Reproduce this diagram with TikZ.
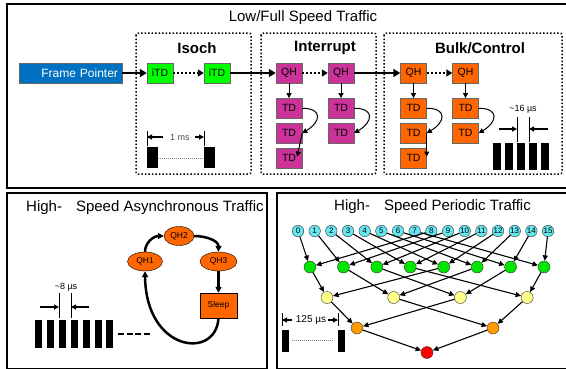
\documentclass[tikz,border=0pt]{standalone}
\usepackage{fontspec}
\setmainfont{Liberation Sans}
\usetikzlibrary{positioning,arrows.meta,shapes.geometric}
\tikzstyle{pixelGrid} = [x = 1pt, y = -1pt]
\definecolor{pointerBlue}{RGB}{0,112,192}
\definecolor{isochGreen}{RGB}{0,255,0}
\definecolor{interruptMagenta}{RGB}{204,51,153}
\definecolor{bulkOrange}{RGB}{255,102,0}
\definecolor{frameCyan}{RGB}{102,230,240}
\definecolor{pollGreen}{RGB}{0,230,0}
\definecolor{pollYellow}{RGB}{255,255,140}
\definecolor{pollOrange}{RGB}{255,153,0}
\definecolor{pollRed}{RGB}{255,0,0}
\tikzstyle{panelFrame} = [draw=black, line width=2pt]
\tikzstyle{groupFrame} = [draw=black, line width=1.5pt, dotted, rounded corners=2pt]
\tikzstyle{panelTitle} = [font=\fontsize{15}{17}\selectfont]
\tikzstyle{groupTitle} = [font=\bfseries\fontsize{15}{17}\selectfont]
\tikzstyle{listBox} = [draw=black!60, text=black, minimum width=26pt, minimum height=20pt, inner sep=0pt, font=\fontsize{10.5}{12}\selectfont]
\tikzstyle{heavyArrow} = [line width=2.5pt, -{Triangle[length=7pt,width=8pt]}]
\tikzstyle{dottedArrow} = [line width=2pt, dotted, -{Triangle[length=6pt,width=7pt]}]
\tikzstyle{linkArrow} = [line width=1pt, -{Triangle[length=5pt,width=5pt]}]
\tikzstyle{treeArrow} = [line width=1.1pt, -{Triangle[length=5.5pt,width=5pt]}]
\tikzstyle{ringArrow} = [line width=2.5pt, -{Triangle[length=6pt,width=6pt]}]
\tikzstyle{dimArrow} = [line width=1.2pt, -{Triangle[length=5pt,width=5pt]}]
\tikzstyle{dimTick} = [line width=1pt]
\tikzstyle{dimText} = [font=\fontsize{9}{10}\selectfont, inner sep=0pt]
\tikzstyle{gapLine} = [line width=1pt, draw=black!50, densely dotted]
\tikzstyle{qhEllipse} = [ellipse, draw=black, fill=bulkOrange, inner sep=0pt, font=\fontsize{8.5}{9}\selectfont]
\tikzstyle{slotNode} = [circle, draw=black!80, fill=frameCyan, minimum size=11.5pt, inner sep=0pt, font=\fontsize{8}{8}\selectfont]
\tikzstyle{pollNode} = [circle, draw=black!80, minimum size=12pt, inner sep=0pt]
\newcommand{\timeBars}[6]{
  \foreach \bar in {1,...,#3} {
    \fill (#1 + #4 * \bar - #4, #2) rectangle + (#5, #6);
  }
}
\newcommand{\tdColumn}[4]{
  \foreach \row in {1,...,#3} {
    \pgfmathsetmacro{\rowY}{83.5 + 24.75 * \row}
    \node [listBox, fill=#4] (#1\row) at (#2, \rowY) {TD};
  }
}

\begin{document}
\begin{tikzpicture}[pixelGrid]
  \useasboundingbox (0,0) rectangle (566,368);

  % low/full speed
  \draw [panelFrame] (7,4) rectangle (572,188);
  \node [panelTitle] (lowFullTitle) at (303,18) {Low/Full Speed Traffic};
  \draw [groupFrame] (136,33) rectangle (251,174);
  \draw [groupFrame] (261,33) rectangle (376,174);
  \draw [groupFrame] (384,33) rectangle (562,174);
  \node [groupTitle] (isochTitle) at (197,48) {Isoch};
  \node [groupTitle] (interruptTitle) at (325,48) {Interrupt};
  \node [groupTitle] (bulkTitle) at (480,48) {Bulk/Control};

  \node [listBox, fill=pointerBlue, text=white, minimum width=103pt, text width=95pt, align=right, font=\fontsize{12}{14}\selectfont] (framePointer) at (70.5,73) {Frame Pointer};
  \node [listBox, fill=isochGreen] (itdA) at (160,73) {iTD};
  \node [listBox, fill=isochGreen] (itdB) at (217,73) {iTD};
  \node [listBox, fill=interruptMagenta] (qhA) at (289,73) {QH};
  \node [listBox, fill=interruptMagenta] (qhB) at (341,73) {QH};
  \node [listBox, fill=bulkOrange] (qhC) at (413.5,73) {QH};
  \node [listBox, fill=bulkOrange] (qhD) at (465.5,73) {QH};
  \tdColumn{tdA}{289}{3}{interruptMagenta}
  \tdColumn{tdB}{341}{2}{interruptMagenta}
  \tdColumn{tdC}{413.5}{3}{bulkOrange}
  \tdColumn{tdD}{465.5}{2}{bulkOrange}

  \draw [heavyArrow] (framePointer) -- (itdA);
  \draw [dottedArrow] (itdA) -- (itdB);
  \draw [heavyArrow] (itdB) -- (qhA);
  \draw [dottedArrow] (qhA) -- (qhB);
  \draw [heavyArrow] (qhB) -- (qhC);
  \draw [dottedArrow] (qhC) -- (qhD);
  \foreach \col in {A,B,C,D} {
    \draw [linkArrow] (qh\col) -- (td\col1);
    \draw [linkArrow] (td\col1.east) to [out=0, in=30, looseness=2.2] (td\col2.east);
  }
  \draw [linkArrow] (tdA2.east) -- ([xshift=-5pt, yshift=-9pt]tdA3.north east);
  \draw [linkArrow] (tdC2.east) -- ([yshift=-9pt]tdC3.north east);

  % frame period
  \draw [dimTick] (147,131) -- (147,146) (204,131) -- (204,146);
  \draw [dimArrow] (163,137) -- (147,137);
  \draw [dimArrow] (195,137) -- (204,137);
  \node [dimText, text=black!70] (frameLabel) at (180,137) {1 ms};
  \timeBars{147}{147}{2}{57}{11}{21}
  \draw [gapLine] (158,158) -- (204,158);

  % bulk packets
  \draw [dimTick] (517,117) -- (517,142) (529,117) -- (529,142);
  \draw [dimArrow] (499,129) -- (517,129);
  \draw [dimArrow] (548,129) -- (529,129);
  \node [dimText] (bulkLabel) at (523,109) {\textasciitilde 16 µs};
  \timeBars{493}{143}{5}{12}{8}{27}

  % high speed asynchronous
  \draw [panelFrame] (7,193) rectangle (267,369);
  \node [panelTitle, anchor=west, inner sep=0pt] (asyncTitle) at (26,208) {High-\hspace{14pt}Speed Asynchronous Traffic};
  \node [qhEllipse, minimum width=35pt, minimum height=19pt] (asyncQhA) at (145,261.5) {QH1};
  \node [qhEllipse, minimum width=30pt, minimum height=19pt] (asyncQhB) at (179,236) {QH2};
  \node [qhEllipse, minimum width=37pt, minimum height=19pt] (asyncQhC) at (218.5,261.5) {QH3};
  \node [draw=black, fill=bulkOrange, minimum width=37pt, minimum height=25pt, inner sep=0pt, font=\fontsize{8.5}{9}\selectfont] (sleepBox) at (218.5,305.5) {Sleep};
  \draw [ringArrow] (asyncQhA.north) to [out=90, in=180] (asyncQhB.west);
  \draw [ringArrow] (asyncQhB.east) to [out=0, in=90] (asyncQhC.north);
  \draw [ringArrow] (asyncQhC.south) -- (sleepBox.north);
  \draw [ringArrow] (sleepBox.south) .. controls (216,360) and (146,352) .. (asyncQhA.south);

  \draw [dimTick] (59,293) -- (59,318) (71,293) -- (71,318);
  \draw [dimArrow] (40,307) -- (59,307);
  \draw [dimArrow] (89,307) -- (71,307);
  \node [dimText] (asyncLabel) at (66,287) {\textasciitilde 8 µs};
  \timeBars{35}{320}{7}{11.9}{7}{28}
  \draw [line width=2.5pt, dash pattern=on 6pt off 2.5pt] (118,334) -- (150,334);

  % high speed periodic
  \draw [panelFrame] (277,193) rectangle (572,369);
  \node [panelTitle, anchor=west, inner sep=0pt] (periodicTitle) at (334,207) {High-\hspace{14pt}Speed Periodic Traffic};
  \foreach \slot in {0,...,15} {
    \node [slotNode] (slot\slot) at (298 + 16.67 * \slot, 231) {\slot};
  }
  \foreach \leaf in {0,...,7} {
    \node [pollNode, fill=pollGreen] (greenNode\leaf) at (310 + 33.43 * \leaf, 267) {};
  }
  \foreach \mid in {0,...,3} {
    \node [pollNode, fill=pollYellow] (yellowNode\mid) at (327 + 66.7 * \mid, 297.5) {};
  }
  \node [pollNode, fill=pollOrange] (orangeNode0) at (357,328) {};
  \node [pollNode, fill=pollOrange] (orangeNode1) at (493,328) {};
  \node [pollNode, fill=pollRed] (redNode) at (427,352.5) {};
  \foreach \slot in {0,...,15} {
    \pgfmathtruncatemacro{\leaf}{mod(\slot,8)}
    \draw [treeArrow] (slot\slot) -- (greenNode\leaf);
  }
  \foreach \leaf in {0,...,7} {
    \pgfmathtruncatemacro{\mid}{mod(\leaf,4)}
    \draw [treeArrow] (greenNode\leaf) -- (yellowNode\mid);
  }
  \foreach \mid in {0,...,3} {
    \pgfmathtruncatemacro{\half}{mod(\mid,2)}
    \draw [treeArrow] (yellowNode\mid) -- (orangeNode\half);
  }
  \draw [treeArrow] (orangeNode0) -- (redNode);
  \draw [treeArrow] (orangeNode1) -- (redNode);

  \draw [dimTick] (282,313) -- (282,326) (338,313) -- (338,326);
  \draw [dimArrow] (292,320) -- (282,320);
  \draw [dimArrow] (328,320) -- (338,320);
  \node [dimText, font=\fontsize{10}{11}\selectfont] (microLabel) at (311,320) {125 µs};
  \timeBars{282}{330}{2}{56}{6.5}{22}
  \draw [gapLine] (292,340) -- (334,340);
\end{tikzpicture}
\end{document}
